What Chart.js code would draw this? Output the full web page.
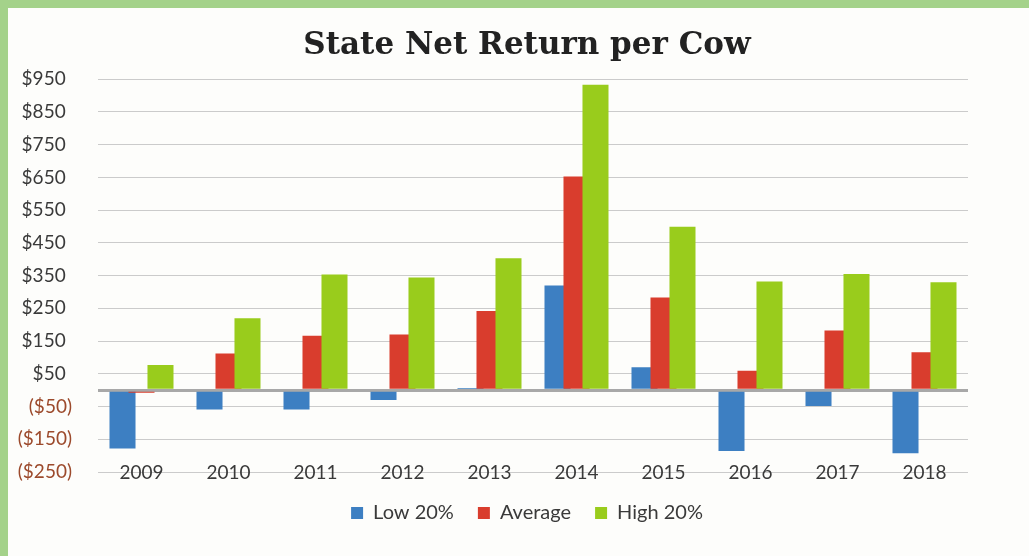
<!DOCTYPE html>
<html>
<head>
<meta charset="utf-8">
<script src="https://cdn.jsdelivr.net/npm/chart.js@4/dist/chart.umd.min.js"></script>
<style>
  html, body { margin: 0; padding: 0; }
  body { width: 1029px; height: 556px; background: #a4d28a; overflow: hidden; }
  #wrap { position: absolute; left: 8px; top: 8px; width: 1021px; height: 548px; background: #fdfdfb; }
  canvas { display: block; }
</style>
</head>
<body>
<div id="wrap"><canvas id="c" width="1021" height="548"></canvas></div>
<script>
const years = ['2009','2010','2011','2012','2013','2014','2015','2016','2017','2018'];
const low20 = [-178, -59, -59, -30, 7, 320, 70, -186, -48, -193];
const average = [-8, 112, 166, 170, 242, 653, 283, 59, 182, 116];
const high20 = [77, 220, 353, 344, 403, 933, 499, 332, 355, 330];
const yTickValues = [-250, -150, -50, 0, 50, 150, 250, 350, 450, 550, 650, 750, 850, 950];
const seriesNames = ['Low 20%', 'Average', 'High 20%'];
const seriesColors = ['#3d7fc2', '#d93d2d', '#99cc1c'];

function money(v) {
  if (v === 0) return '';
  if (v < 0) return '($' + Math.abs(v) + ')';
  return '$' + v + '\u2004';
}

// draw datasets in index order so later series overlap earlier ones (like Excel)
const forwardDraw = {
  id: 'forwardDraw',
  beforeDatasetsDraw(chart) {
    const ctx = chart.ctx;
    const a = chart.chartArea;
    ctx.save();
    ctx.beginPath();
    ctx.rect(a.left, a.top - 2, a.right - a.left, a.bottom - a.top + 4);
    ctx.clip();
    chart.getSortedVisibleDatasetMetas().forEach(m => m.controller.draw());
    ctx.restore();
    return false;
  }
};

new Chart(document.getElementById('c'), {
  type: 'bar',
  data: {
    labels: years,
    datasets: [
      { label: seriesNames[0], data: low20, backgroundColor: seriesColors[0] },
      { label: seriesNames[1], data: average, backgroundColor: seriesColors[1] },
      { label: seriesNames[2], data: high20, backgroundColor: seriesColors[2] }
    ]
  },
  plugins: [forwardDraw],
  options: {
    responsive: false,
    animation: false,
    categoryPercentage: 0.655,
    barPercentage: 1.37,
    layout: { padding: { left: 6, right: -11, top: 0, bottom: 23 } },
    plugins: {
      title: {
        display: true,
        text: 'State Net Return per Cow',
        color: '#222222',
        font: { family: "'DejaVu Serif', serif", size: 31, weight: 'bold' },
        padding: { top: 19, bottom: 15 }
      },
      legend: {
        position: 'bottom',
        labels: {
          color: '#3a3a3a',
          font: { family: 'Lato', size: 20 },
          boxWidth: 12,
          boxHeight: 12,
          padding: 24
        }
      },
      tooltip: { enabled: false }
    },
    scales: {
      x: {
        grid: { display: false, drawTicks: false },
        border: { display: false },
        afterFit(scale) { scale.height = 7; },
        ticks: {
          color: '#3a3a3a',
          font: { family: 'Lato', size: 19 },
          mirror: true,
          padding: -12
        }
      },
      y: {
        min: -250,
        max: 950,
        afterBuildTicks(scale) { scale.ticks = yTickValues.map(v => ({ value: v })); },
        afterFit(scale) { scale.width = 84; },
        grid: {
          drawTicks: false,
          color: c => (c.tick && c.tick.value === 0) ? '#a8a8a8' : '#cbcbcb',
          lineWidth: c => (c.tick && c.tick.value === 0) ? 3 : 1
        },
        border: { display: false },
        ticks: {
          padding: 26,
          font: { family: 'Lato', size: 19 },
          color: c => (c.tick && c.tick.value < 0) ? '#9c4a2c' : '#3a3a3a',
          callback: v => money(v)
        }
      },
      yRight: {
        type: 'linear',
        position: 'right',
        display: true,
        grid: { display: false, drawTicks: false },
        border: { display: false },
        ticks: { display: false },
        afterFit(scale) { scale.width = 72; }
      }
    }
  }
});
</script>
</body>
</html>
